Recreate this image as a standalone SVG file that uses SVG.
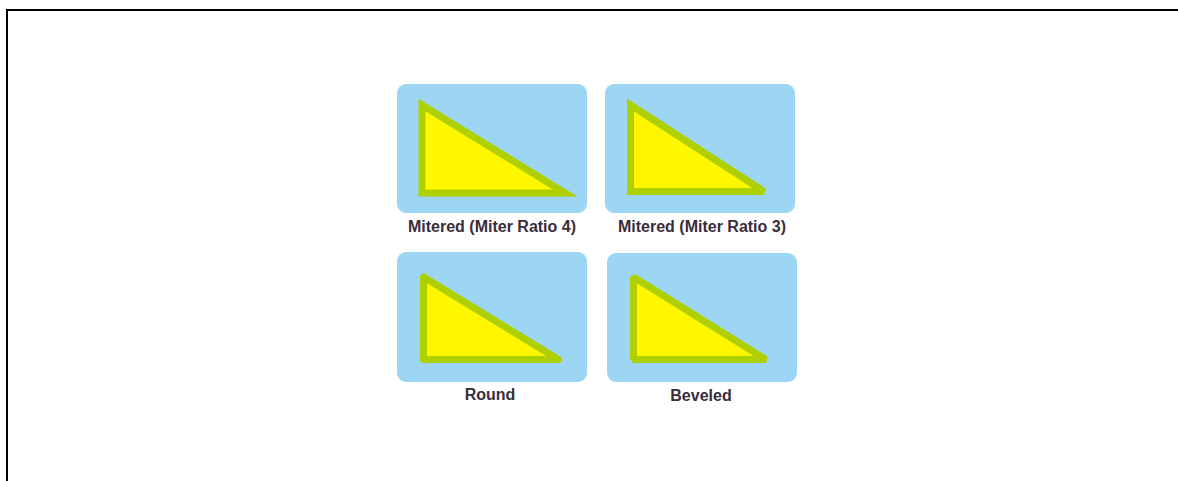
<svg xmlns="http://www.w3.org/2000/svg" width="1178" height="481" viewBox="0 0 1178 481">
<style>
.panel{fill:#9dd5f5;}
.tri{fill:#fff700;stroke:#afd000;stroke-width:7;}
.lbl{font-family:"Liberation Sans",Arial,sans-serif;font-weight:bold;font-size:16px;fill:#3a2d3a;text-anchor:middle;}
</style>
<rect x="7" y="10" width="1200" height="500" fill="#ffffff" stroke="#000000" stroke-width="2"/>
<g id="miter4">
<rect class="panel" x="397" y="84" width="190" height="129" rx="9"/>
<path class="tri" d="M422,105 L422,193 L565,193 Z" stroke-linejoin="miter" stroke-miterlimit="4"/>
<text class="lbl" x="492" y="232">Mitered (Miter Ratio 4)</text>
</g>
<g id="miter3">
<rect class="panel" x="605" y="84" width="190" height="129" rx="9"/>
<path class="tri" d="M630.5,105 L630.5,191.5 L764,191.5 Z" stroke-linejoin="miter" stroke-miterlimit="3"/>
<text class="lbl" x="702" y="232">Mitered (Miter Ratio 3)</text>
</g>
<g id="round">
<rect class="panel" x="397" y="252" width="190" height="130" rx="9"/>
<path class="tri" d="M423.5,277 L423.5,359.5 L558.5,359.5 Z" stroke-linejoin="round"/>
<text class="lbl" x="490" y="400">Round</text>
</g>
<g id="beveled">
<rect class="panel" x="607" y="253" width="190" height="129" rx="9"/>
<path class="tri" d="M633.5,277 L633.5,359.5 L766,359.5 Z" stroke-linejoin="bevel"/>
<text class="lbl" x="701" y="401">Beveled</text>
</g>
<g id="connectors"></g>
</svg>
